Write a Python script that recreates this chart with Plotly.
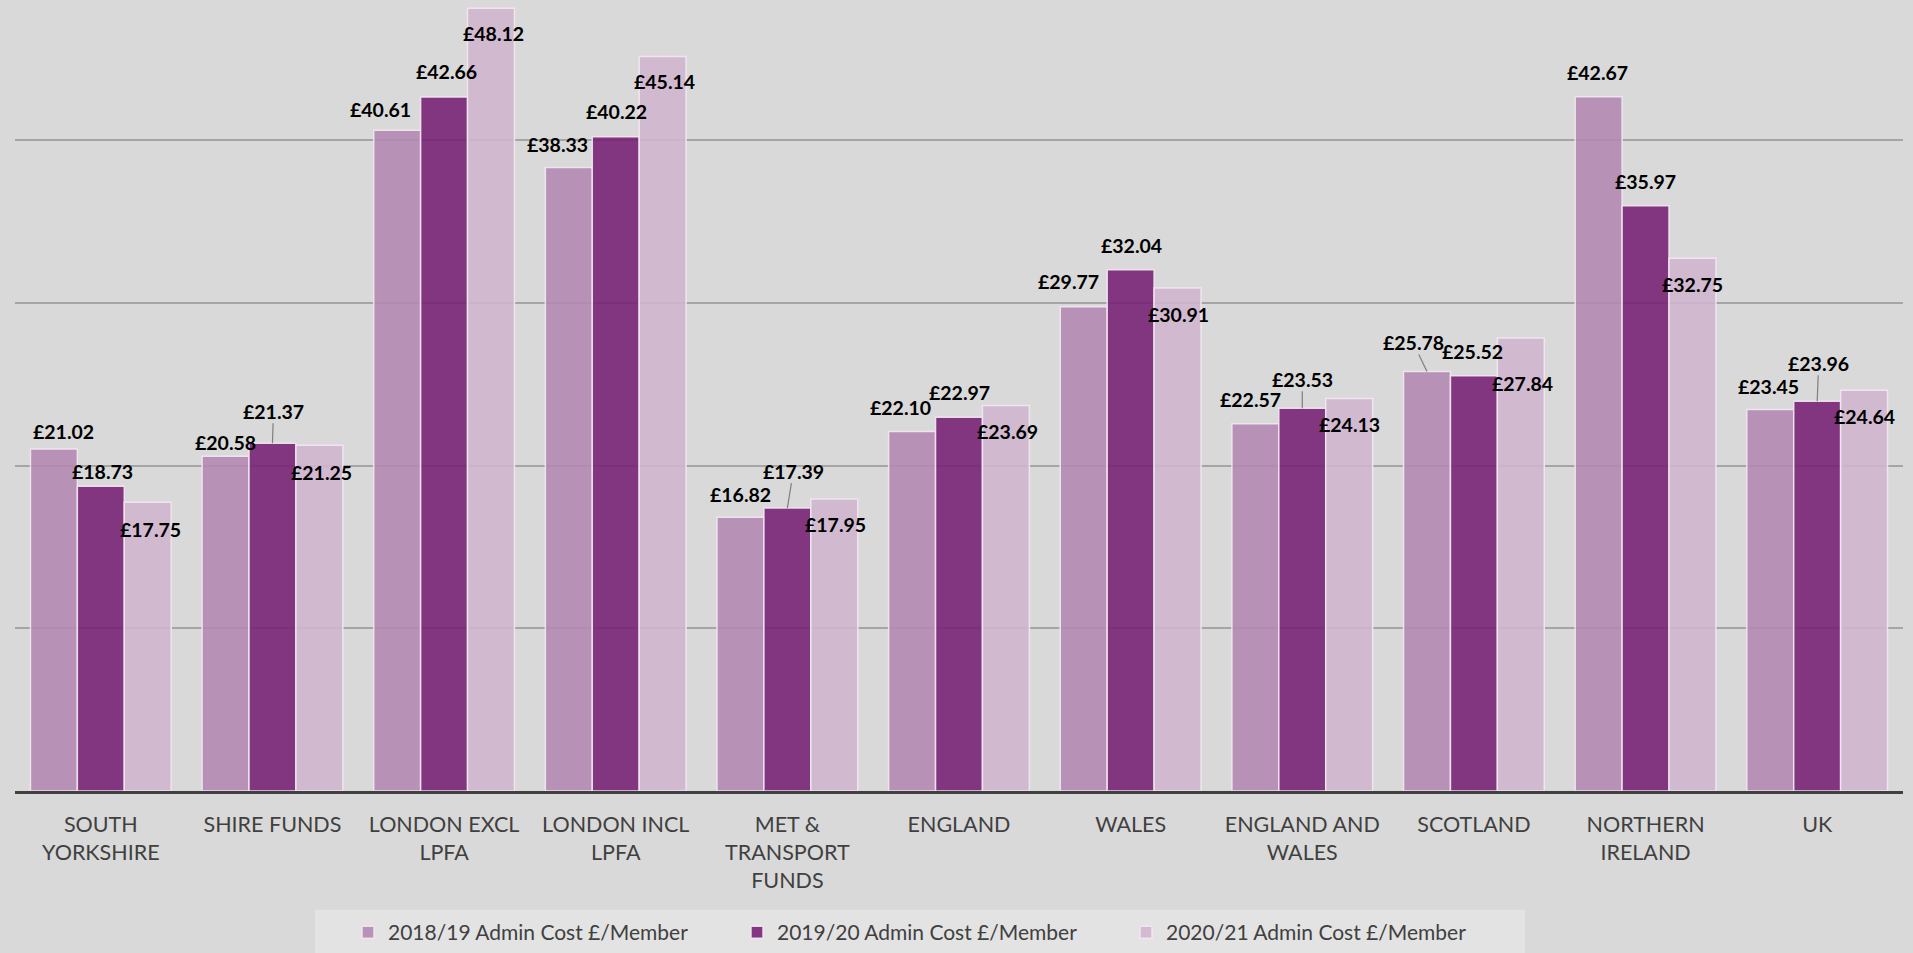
import plotly.graph_objects as go

categories = ["SOUTH<br>YORKSHIRE", "SHIRE FUNDS", "LONDON EXCL<br>LPFA", "LONDON INCL<br>LPFA",
              "MET &<br>TRANSPORT<br>FUNDS", "ENGLAND", "WALES", "ENGLAND AND<br>WALES",
              "SCOTLAND", "NORTHERN<br>IRELAND", "UK"]
series_names = ["2018/19 Admin Cost £/Member", "2019/20 Admin Cost £/Member", "2020/21 Admin Cost £/Member"]
cost_2018_19 = [21.02, 20.58, 40.61, 38.33, 16.82, 22.10, 29.77, 22.57, 25.78, 42.67, 23.45]
cost_2019_20 = [18.73, 21.37, 42.66, 40.22, 17.39, 22.97, 32.04, 23.53, 25.52, 35.97, 23.96]
cost_2020_21 = [17.75, 21.25, 48.12, 45.14, 17.95, 23.69, 30.91, 24.13, 27.84, 32.75, 24.64]
series_values = [cost_2018_19, cost_2019_20, cost_2020_21]

# styling
colors = ["rgba(179,138,177,0.9)", "rgba(120,36,116,0.9)", "rgba(207,181,206,0.9)"]
# label offsets in pixels (dx, dy screen-down, leader line?) per category, per series
label_offsets = [
    [(10, -18, 0), (2, -15, 0), (3, 27, 0)],
    [(0, -14, 0), (1, -32, 1), (2, 27, 0)],
    [(-17, -21, 0), (2, -25, 0), (2, 25, 0)],
    [(-11.5, -22.5, 0), (1, -25, 0), (1.5, 25, 0)],
    [(0, -23, 0), (6, -37, 1), (1, 26, 0)],
    [(-12, -24, 0), (0, -25, 0), (1.5, 26, 0)],
    [(-15.5, -25, 0), (0.5, -24, 0), (0.5, 26.5, 0)],
    [(-5, -24, 0), (0, -29, 1), (0.5, 26, 0)],
    [(-14, -29, 1), (-1, -24, 0), (2, 45.5, 0)],
    [(-1, -24, 0), (-0.5, -24, 0), (0, 26.5, 0)],
    [(-1.5, -23, 0), (1.5, -38, 1), (0, 26, 0)],
]

W, H = 1913, 953
ML, MR, MT, MB = 15, 10, 0, 161
BARGAP = 0.18
bw = (1 - BARGAP) / 3

fig = go.Figure()
for name, vals, col in zip(series_names, series_values, colors):
    fig.add_trace(go.Bar(
        x=categories, y=vals, name=name,
        marker=dict(color=col, line=dict(color="rgba(242,232,242,0.9)", width=1.5)),
        hoverinfo="x+y",
    ))

annotations = []
for i in range(len(categories)):
    for j in range(3):
        v = series_values[j][i]
        dx, dy, lead = label_offsets[i][j]
        xpos = i + (j - 1) * bw
        txt = "£%.2f" % v
        font = dict(family="Lato", size=19.5, color="#000000")
        if lead:
            annotations.append(dict(x=xpos, y=v, xref="x", yref="y", text="<b>%s</b>" % txt,
                                    showarrow=True, arrowhead=0, arrowwidth=1.2, arrowcolor="#7f7f7f",
                                    ax=dx, ay=dy, standoff=0, font=font, borderpad=0))
        else:
            annotations.append(dict(x=xpos, y=v, xref="x", yref="y", text="<b>%s</b>" % txt,
                                    showarrow=False, xshift=dx, yshift=-dy, font=font,
                                    xanchor="center", yanchor="middle"))

plot_w = W - ML - MR
plot_h = H - MT - MB

def px_x(p):
    return (p - ML) / plot_w

def px_y(p):
    return (H - MB - p) / plot_h

fig.add_shape(type="rect", xref="paper", yref="paper",
              x0=px_x(315), x1=px_x(1525), y0=px_y(960), y1=px_y(911),
              fillcolor="#e3e3e3", line=dict(width=0), layer="below")

fig.update_layout(
    width=W, height=H,
    margin=dict(l=ML, r=MR, t=MT, b=MB),
    paper_bgcolor="#d9d9d9", plot_bgcolor="#d9d9d9",
    barmode="group", bargap=BARGAP, bargroupgap=0,
    font=dict(family="Lato", color="#404040"),
    showlegend=True,
    legend=dict(orientation="h", x=px_x(348), xanchor="left", y=px_y(913), yanchor="top",
                bgcolor="rgba(0,0,0,0)", font=dict(family="Lato", size=21, color="#404040"),
                entrywidth=344, entrywidthmode="pixels", traceorder="normal"),
    annotations=annotations,
    xaxis=dict(type="category", showline=True, linecolor="#404040", linewidth=3,
               ticks="outside", ticklen=12, tickcolor="rgba(0,0,0,0)",
               tickfont=dict(family="Lato", size=21.5, color="#404040"),
               showgrid=False, range=[-0.5, 10.5]),
    yaxis=dict(range=[0, 48.62], showticklabels=False, showgrid=True, gridcolor="#a5a5a5",
               gridwidth=1.5, dtick=10, zeroline=False, showline=False, ticks=""),
)

fig.write_html("out.html")
